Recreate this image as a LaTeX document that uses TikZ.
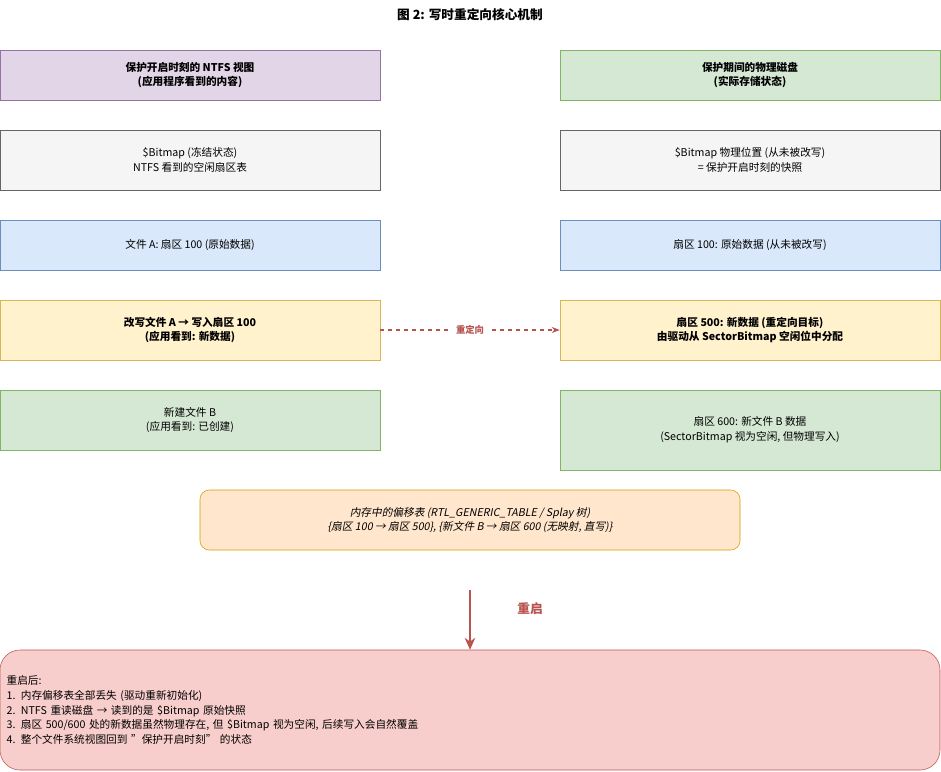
\documentclass[tikz,border=0pt]{standalone}
\usepackage{fontspec}
\setmainfont{Noto Sans CJK SC}[AutoFakeSlant=0.2]
\usetikzlibrary{arrows.meta}
\definecolor{purpF}{HTML}{E1D5E7}\definecolor{purpD}{HTML}{9673A6}
\definecolor{grayF}{HTML}{F5F5F5}\definecolor{grayD}{HTML}{666666}
\definecolor{blueF}{HTML}{DAE8FC}\definecolor{blueD}{HTML}{6C8EBF}
\definecolor{yelF}{HTML}{FFF2CC}\definecolor{yelD}{HTML}{D6B656}
\definecolor{grnF}{HTML}{D5E8D4}\definecolor{grnD}{HTML}{82B366}
\definecolor{orgF}{HTML}{FFE6CC}\definecolor{orgD}{HTML}{D79B00}
\definecolor{redF}{HTML}{F8CECC}\definecolor{redD}{HTML}{B85450}
\tikzset{
  box/.style={draw, minimum width=285pt, align=center, inner sep=0pt,
    font=\fontsize{8}{11}\selectfont},
  hbox/.style={box, minimum height=37.5pt},
  tbox/.style={box, minimum height=45pt},
}
\begin{document}
\begin{tikzpicture}[x=0.75pt,y=-0.75pt]
\useasboundingbox (0,0) rectangle (941,771);
\node[font=\fontsize{9.5}{12}\selectfont\bfseries] (title) at (470,15) {图 2: 写时重定向核心机制};
% left column
\node[hbox, fill=purpF, draw=purpD, font=\fontsize{8}{11}\selectfont\bfseries] (ntfs) at (190,75) {保护开启时刻的 NTFS 视图\\(应用程序看到的内容)};
\node[tbox, fill=grayF, draw=grayD] (bmap) at (190,160) {\$Bitmap (冻结状态)\\NTFS 看到的空闲扇区表};
\node[hbox, fill=blueF, draw=blueD] (fileA) at (190,245) {文件 A: 扇区 100 (原始数据)};
\node[tbox, fill=yelF, draw=yelD, font=\fontsize{8}{11}\selectfont\bfseries] (write) at (190,330) {改写文件 A → 写入扇区 100\\(应用看到: 新数据)};
\node[tbox, fill=grnF, draw=grnD] (fileB) at (190,420) {新建文件 B\\(应用看到: 已创建)};
% right column
\node[hbox, fill=grnF, draw=grnD, font=\fontsize{8}{11}\selectfont\bfseries] (disk) at (750,75) {保护期间的物理磁盘\\(实际存储状态)};
\node[tbox, fill=grayF, draw=grayD] (phys) at (750,160) {\$Bitmap 物理位置 (从未被改写)\\= 保护开启时刻的快照};
\node[hbox, fill=blueF, draw=blueD] (s100) at (750,245) {扇区 100: 原始数据 (从未被改写)};
\node[tbox, fill=yelF, draw=yelD, font=\fontsize{8}{11}\selectfont\bfseries] (s500) at (750,330) {扇区 500: 新数据 (重定向目标)\\由驱动从 SectorBitmap 空闲位中分配};
\node[box, minimum height=60pt, fill=grnF, draw=grnD] (s600) at (750,430) {扇区 600: 新文件 B 数据\\(SectorBitmap 视为空闲, 但物理写入)};
% redirect
\draw[redD, thick, dashed, -{Stealth[length=6pt]}] (write) -- (s500)
  node[midway, fill=white, inner sep=6pt, font=\fontsize{7}{9}\selectfont\bfseries, text=redD] (redir) {重定向};
% memory table
\node[box, minimum width=405pt, minimum height=45pt, rounded corners=7pt, fill=orgF, draw=orgD, font=\fontsize{8}{11}\selectfont\itshape] (table) at (470,520) {内存中的偏移表 (RTL\_GENERIC\_TABLE / Splay 树)\\\{扇区 100 → 扇区 500\}, \{新文件 B → 扇区 600 (无映射, 直写)\}};
% reboot
\coordinate (rtop) at (470,590);
\node[box, minimum width=705pt, minimum height=90pt, rounded corners=15pt, fill=redF, draw=redD, align=left, text width=695pt] (after) at (470,710) {重启后:\\1. 内存偏移表全部丢失 (驱动重新初始化)\\2. NTFS 重读磁盘 → 读到的是 \$Bitmap 原始快照\\3. 扇区 500/600 处的新数据虽然物理存在, 但 \$Bitmap 视为空闲, 后续写入会自然覆盖\\4. 整个文件系统视图回到 "保护开启时刻" 的状态};
\draw[redD, thick, -{Stealth[length=9pt,width=8pt]}] (rtop) -- (after.north);
\node[text=redD, font=\fontsize{9.5}{12}\selectfont\bfseries] (reboot) at (530,609) {重启};
\end{tikzpicture}
\end{document}
